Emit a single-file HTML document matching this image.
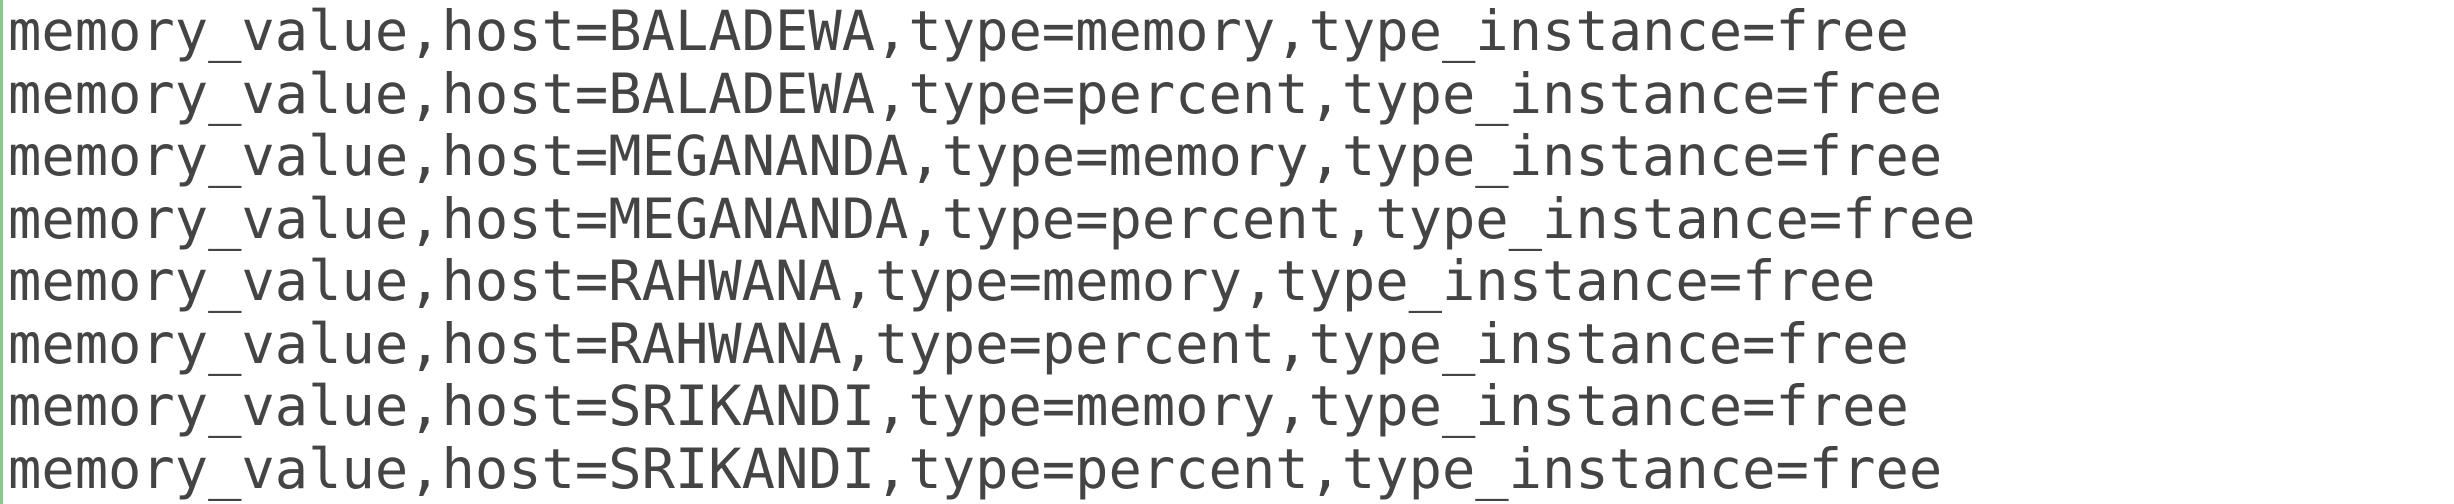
<!DOCTYPE html>
<html><head><style>
html,body{margin:0;padding:0;background:#fff;}
body{width:2454px;height:504px;overflow:hidden;position:relative;}
.bar{position:absolute;left:0;top:0;width:3px;height:504px;background:#8bc98b;}
pre{margin:0;position:absolute;left:8px;top:1px;font-family:"DejaVu Sans Mono","Liberation Mono",monospace;font-size:55.4px;line-height:62.5px;color:#444;}
</style></head><body>
<div class="bar"></div>
<pre>memory_value,host=BALADEWA,type=memory,type_instance=free
memory_value,host=BALADEWA,type=percent,type_instance=free
memory_value,host=MEGANANDA,type=memory,type_instance=free
memory_value,host=MEGANANDA,type=percent,type_instance=free
memory_value,host=RAHWANA,type=memory,type_instance=free
memory_value,host=RAHWANA,type=percent,type_instance=free
memory_value,host=SRIKANDI,type=memory,type_instance=free
memory_value,host=SRIKANDI,type=percent,type_instance=free</pre>
</body></html>
